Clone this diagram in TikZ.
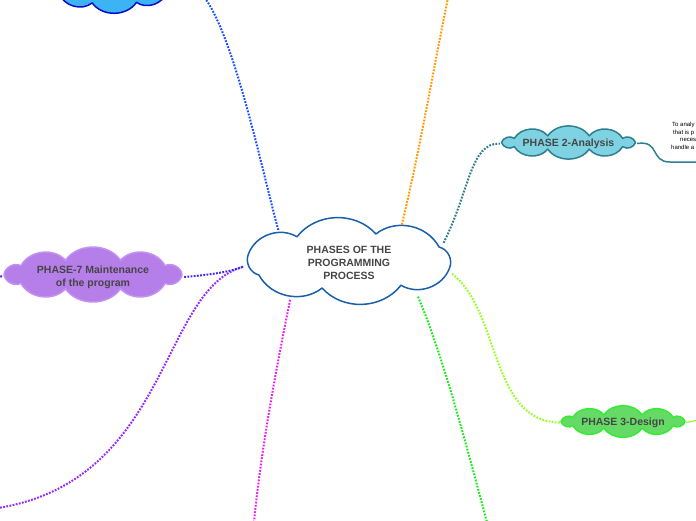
\documentclass[tikz,border=0pt]{standalone}
\usepackage{fontspec}
\setmainfont{Liberation Sans}
\usetikzlibrary{shapes.geometric}
\definecolor{mainstroke}{RGB}{26,95,170}
\definecolor{txtgray}{RGB}{70,70,70}
\definecolor{anafill}{RGB}{126,210,226}
\definecolor{anastroke}{RGB}{46,128,144}
\definecolor{mfill}{RGB}{181,126,232}
\definecolor{mstroke}{RGB}{196,144,242}
\definecolor{dfill}{RGB}{102,218,102}
\definecolor{dstroke}{RGB}{50,236,50}
\definecolor{tlfill}{RGB}{60,180,244}
\definecolor{tlstroke}{RGB}{10,10,204}
\definecolor{cblue}{RGB}{30,80,255}
\definecolor{corange}{RGB}{255,153,0}
\definecolor{cteal}{RGB}{46,125,140}
\definecolor{cchart}{RGB}{150,255,40}
\definecolor{cgreen}{RGB}{30,235,30}
\definecolor{cmag}{RGB}{238,34,238}
\definecolor{cpurple}{RGB}{150,40,255}
\definecolor{cviolet}{RGB}{60,40,255}
% #1 cx, #2 cy, #3 a, #4 b, #5 puffs, #6 start angle, #7 bend
\newcommand{\puffpath}[7]{({#1+#3*cos(#6)},{#2+#4*sin(#6)})
  \foreach \k in {1,...,#5} { to[bend left=#7] ({#1+#3*cos(#6+\k*360/#5)},{#2+#4*sin(#6+\k*360/#5)}) } -- cycle}
\tikzset{
  cloudline/.style={line width=1.5pt, line join=round},
  cloudtext/.style={ellipse, inner sep=0pt, align=center,
    font=\fontsize{10.5}{13}\selectfont\bfseries, text=txtgray},
  dotline/.style={line width=2pt, dash pattern=on 1.8pt off 1.4pt},
}
\begin{document}
\begin{tikzpicture}[x=1pt,y=-1pt]
\useasboundingbox (0,0) rectangle (696,520);
\clip (0,0) rectangle (696,520);
\fill[white] (0,0) rectangle (696,520);

\coordinate (topend) at (205,-2);
\coordinate (orend) at (448,-2);
\coordinate (greenend) at (487,522);
\coordinate (magend) at (254,522);
\coordinate (purend) at (-2,508);
\coordinate (anaend) at (698,162);
\coordinate (desend) at (698,420);
\coordinate (m7end) at (-2,274);

% cloud outlines
\draw[cloudline, mainstroke, fill=white] \puffpath{349}{261}{104}{28}{8}{15}{50};
\draw[cloudline, anastroke, fill=anafill] \puffpath{568.5}{142.5}{67}{7}{10}{0}{55};
\draw[cloudline, mstroke, fill=mfill] \puffpath{93}{274.5}{89}{15}{10}{0}{55};
\draw[cloudline, dstroke, fill=dfill] \puffpath{623}{421.5}{62}{7}{10}{0}{55};
\draw[cloudline, tlstroke, fill=tlfill] \puffpath{112}{-14}{58}{18}{8}{20}{55};

% named nodes with the texts
\node[cloudtext, minimum width=212, minimum height=88] (main) at (349,263) {PHASES OF THE\\PROGRAMMING\\PROCESS};
\node[cloudtext, minimum width=137, minimum height=31] (ana) at (568.5,143.5) {PHASE 2-Analysis};
\node[cloudtext, minimum width=182, minimum height=51] (maint) at (93,277) {PHASE-7 Maintenance\\of the program};
\node[cloudtext, minimum width=126, minimum height=31] (design) at (623,422.5) {PHASE 3-Design};
\node[ellipse, inner sep=0pt, minimum width=120, minimum height=52] (topleft) at (112,-14) {};

\draw[dotline, cblue] (main.155) .. controls (262,170) and (235,40) .. (topend);
\draw[dotline, corange] (main.36) .. controls (420,150) and (435,60) .. (orend);
\draw[dotline, cteal] (main.12) .. controls (470,190) and (470,143) .. (ana.west);
\draw[dotline, cchart] (main.-6) .. controls (500,310) and (490,422) .. (design.west);
\draw[dotline, cgreen] (main.-26) .. controls (445,360) and (470,460) .. (greenend);
\draw[dotline, cmag] (main.212) .. controls (280,350) and (262,440) .. (magend);
\draw[dotline, cpurple] (main.182) .. controls (160,290) and (170,480) .. (purend);
\draw[dotline, cviolet] (maint.east) .. controls (220,274) and (235,270) .. (main.182);
\draw[dotline, cviolet] (maint.west) -- (m7end);
\draw[line width=1.5pt, anastroke] (ana.east) .. controls (660,140) and (650,162) .. (670,162) -- (anaend);
\draw[line width=1.2pt, cchart] (design.east) -- (desend);

\node[anchor=north west, inner sep=0pt, align=left, font=\fontsize{6}{7.5}\selectfont] (anatext) at (671,122)
  {\hspace*{1pt}To analy\\\hspace*{2pt}that is p\\\hspace*{9pt}neces\\handle a};
\end{tikzpicture}
\end{document}
